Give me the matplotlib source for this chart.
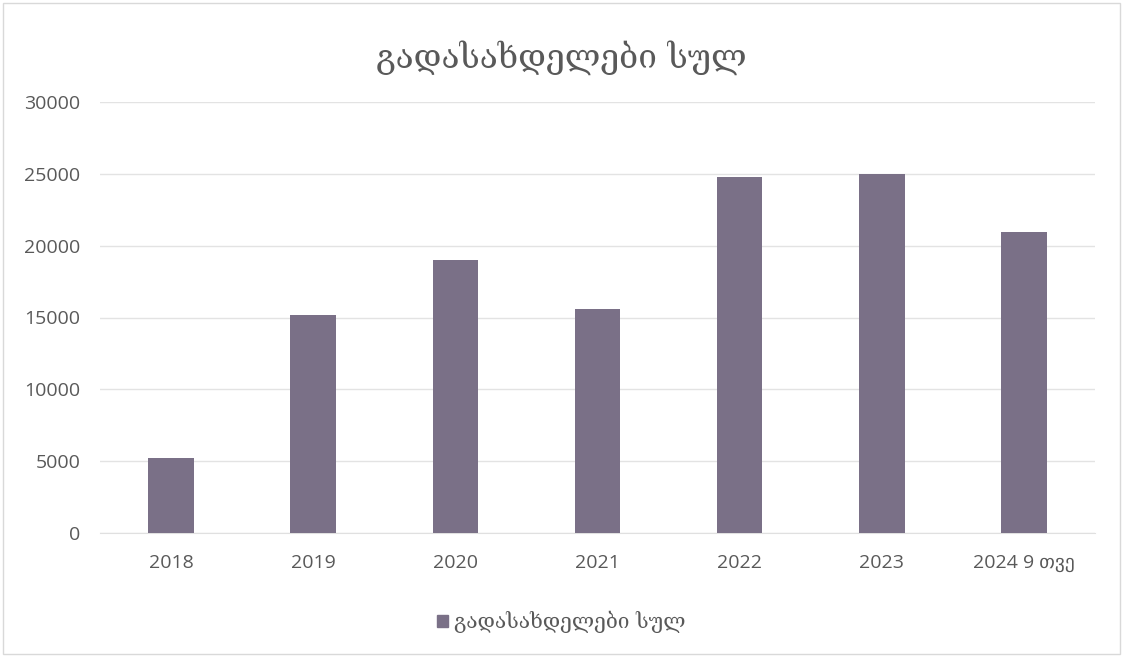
import matplotlib
matplotlib.use("Agg")
import matplotlib.pyplot as plt
from matplotlib.patches import Rectangle, Patch

categories = ["2018", "2019", "2020", "2021", "2022", "2023", "2024 9 თვე"]
values = [5200, 15200, 19000, 15600, 24800, 25000, 20950]
yticks = [0, 5000, 10000, 15000, 20000, 25000, 30000]
title = "გადასახდელები სულ"
series_name = "გადასახდელები სულ"

plt.rcParams['font.family'] = ['Open Sans', 'DejaVu Sans']
bar_color = "#7a7087"
text_color = "#595959"

fig = plt.figure(figsize=(11.23, 6.57), dpi=100)
ax = fig.add_axes([100/1123, 1-533/657, 995/1123, 431/657])

x = list(range(len(categories)))
ax.bar(x, values, width=0.32, color=bar_color, zorder=3, label=series_name)
ax.set_xlim(-0.5, len(categories) - 0.5)
ax.set_ylim(0, 30000)
ax.set_yticks(yticks)
ax.set_yticklabels([str(v) for v in yticks])
ax.set_xticks(x)
ax.set_xticklabels(categories)
ax.grid(axis='y', color="#e3e3e3", linewidth=1, zorder=0)
for s in ["top", "right", "left"]:
    ax.spines[s].set_visible(False)
ax.spines["bottom"].set_color("#e0e0e0")
ax.tick_params(axis='both', length=0, colors=text_color, labelsize=14)
ax.tick_params(axis='y', pad=14)
ax.tick_params(axis='x', pad=15)

fig.text(0.5, 1-58/657, title, ha='center', va='center', fontsize=24,
         color=text_color, family=['DejaVu Serif', 'DejaVu Sans'])

fig.legend(handles=[Patch(color=bar_color, label=series_name)],
           loc='center', bbox_to_anchor=(0.5, 1-622/657), frameon=False,
           prop={'family': ['DejaVu Serif', 'DejaVu Sans'], 'size': 15},
           handlelength=0.5, handleheight=0.5, handletextpad=0.3,
           labelcolor=text_color)

fig.patches.append(Rectangle((3/1123, 3/657), 1-6/1123, 1-6/657, transform=fig.transFigure,
                             fill=False, edgecolor="#d9d9d9", linewidth=1))

fig.savefig("out.png", dpi=100, facecolor="white")
